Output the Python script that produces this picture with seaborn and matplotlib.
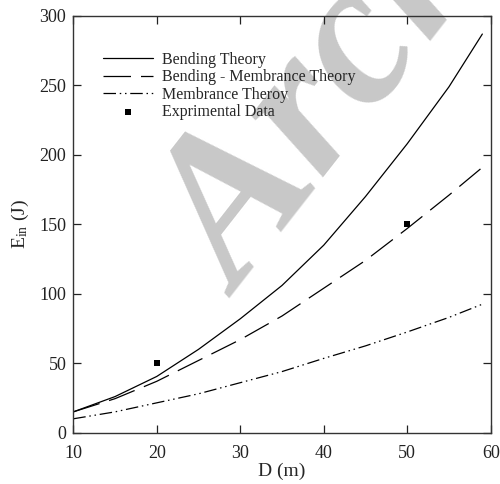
import numpy as np
import pandas as pd
import matplotlib
matplotlib.use("Agg")
import matplotlib.pyplot as plt
import seaborn as sns

# Data
D = [10, 15, 20, 25, 30, 35, 40, 45, 50, 55, 59]
bending = [15, 26, 40.5, 60, 82, 106, 135, 170, 208, 249, 287]
bending_membrane = [15, 24.5, 37, 52, 67, 84, 104, 124, 147, 171, 191]
membrane = [10, 15, 21.5, 28, 36, 44, 53.5, 62.5, 72.5, 83, 92.5]
exp_D = [20, 50]
exp_E = [50, 150]

labels = ["Bending Theory", "Bending - Membrance Theory", "Membrance Theroy", "Exprimental Data"]

sns.set_style("ticks")
plt.rcParams['font.family'] = ['Liberation Serif', 'DejaVu Serif']
plt.rcParams['mathtext.fontset'] = 'custom'
plt.rcParams['mathtext.rm'] = 'Liberation Serif'
plt.rcParams['mathtext.it'] = 'Liberation Serif:italic'

fig = plt.figure(figsize=(5.0, 4.84), dpi=100)
ax = fig.add_axes([0.1466, 0.106, 0.8348, 0.861])

# watermark
wm = fig.text(0.48, 0.385, "Archive", fontsize=150, color="#c8c8c8", rotation=52,
              rotation_mode="anchor", ha="left", va="baseline", style="italic",
              weight="semibold", family="Liberation Serif")
wm.set_zorder(-1)
ax.set_facecolor("none")

lw = 0.9
sns.lineplot(x=D, y=bending, ax=ax, color="black", lw=lw, label=labels[0])
sns.lineplot(x=D, y=bending_membrane, ax=ax, color="black", lw=lw, label=labels[1])
ax.lines[-1].set_dashes((22, 8))
sns.lineplot(x=D, y=membrane, ax=ax, color="black", lw=lw, label=labels[2])
ax.lines[-1].set_dashes((10, 3, 1.2, 3, 1.2, 3))
sns.scatterplot(x=exp_D, y=exp_E, ax=ax, marker="s", color="black", s=22,
                edgecolor="black", linewidth=0, label=labels[3])

ax.set_xlim(10, 60)
ax.set_ylim(0, 300)
ax.set_xticks([10, 20, 30, 40, 50, 60])
ax.set_yticks([0, 50, 100, 150, 200, 250, 300])
ax.tick_params(direction="in", length=6, width=0.9, top=True, right=True,
               labelsize=13, colors="#222222")
ax.tick_params(axis="x", pad=9)
ax.tick_params(axis="y", pad=5)
for s in ax.spines.values():
    s.set_color("#333333")
    s.set_linewidth(1.0)

ax.set_xlabel("D (m)", fontsize=14, labelpad=0)
ax.set_ylabel(r"E$_{\rm in}$ (J)", fontsize=14, labelpad=6)

leg = ax.legend(loc="upper left", bbox_to_anchor=(0.057, 0.93), frameon=False,
                fontsize=11.5, handlelength=3.1, handletextpad=0.56,
                labelspacing=0.1, borderaxespad=0)

fig.savefig("out.png", dpi=100)
